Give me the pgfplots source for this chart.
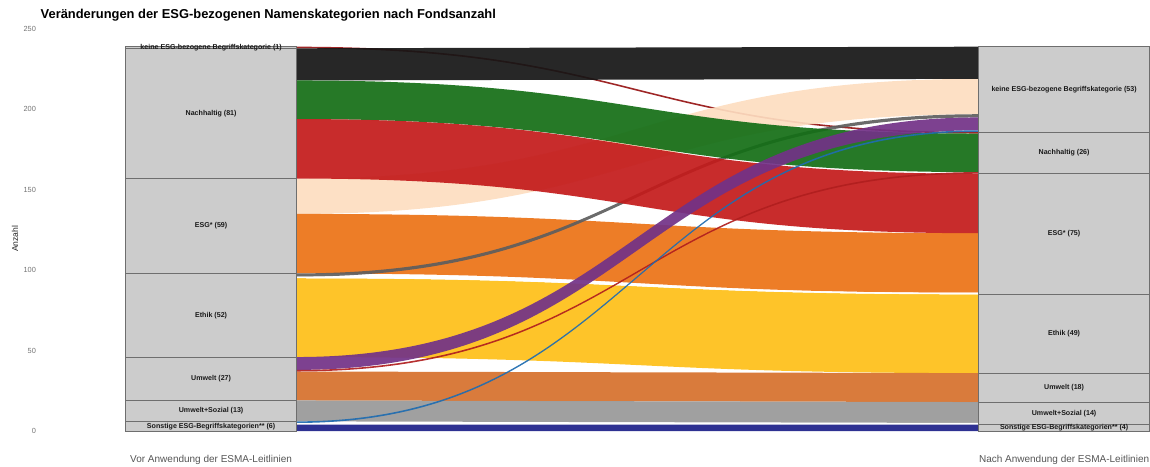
\documentclass[border=0pt]{standalone}
\usepackage{fontspec}
\setmainfont{Liberation Sans}
\usepackage{pgfplots}
\pgfplotsset{compat=1.18}
\usepackage{pgfplotstable}

\definecolor{cBlack}{HTML}{151515}
\definecolor{cGreen}{HTML}{136E15}
\definecolor{cRed}{HTML}{C31A1A}
\definecolor{cPeach}{HTML}{FDDDC0}
\definecolor{cOrange}{HTML}{EC7215}
\definecolor{cYellow}{HTML}{FEBF17}
\definecolor{cGrayLine}{HTML}{5E5E5E}
\definecolor{cPurple}{HTML}{723187}
\definecolor{cRedLine}{HTML}{B01E1E}
\definecolor{cBrown}{HTML}{D6702B}
\definecolor{cGrayArea}{HTML}{989898}
\definecolor{cBlueLine}{HTML}{1F6CB0}
\definecolor{cNavy}{HTML}{1C1F89}
\definecolor{cKN}{HTML}{961414}
\definecolor{cWhite}{HTML}{FFFFFF}
\definecolor{stratfill}{HTML}{CCCCCC}
\definecolor{stratline}{HTML}{6E6E6E}
\definecolor{tickgray}{HTML}{737373}
\definecolor{xlabgray}{HTML}{555555}

% flows: left bottom, left top, right bottom, right top, colour
\pgfplotstableread{
a   b   c   d   col
238 239 185 186 cKN
135 157 197 219 cPeach
98  135 86  123 cOrange
46  95  36  85  cYellow
96  98  195 197 cGrayLine
95  96  85  86  cWhite
218 238 219 239 cBlack
194 218 161 185 cGreen
157 194 123 160 cRed
19  37  18  36  cBrown
6   19  5   18  cGrayArea
4   5   4   5   cWhite
0   4   0   4   cNavy
38  46  187 195 cPurple
37  38  160 161 cRedLine
5   6   186 187 cBlueLine
}\flows

\newcommand{\flow}[5]{%
  \fill[#5, fill opacity=0.92] (axis cs:0.1,#1) .. controls (axis cs:0.5,#1) and (axis cs:0.5,#3) .. (axis cs:0.9,#3)
    -- (axis cs:0.9,#4) .. controls (axis cs:0.5,#4) and (axis cs:0.5,#2) .. (axis cs:0.1,#2) -- cycle;}

\begin{document}
\begin{tikzpicture}
\useasboundingbox (0,0) rectangle (1150pt,466pt);
\begin{axis}[
  at={(40.5pt,15.7pt)}, anchor=south west,
  width=1108.9pt, height=422.9pt, scale only axis,
  xmin=-0.2, xmax=1.1, ymin=-12, ymax=251,
  axis line style={draw=none},
  major tick length=0pt,
  xtick={0,1},
  xticklabels={Vor Anwendung der ESMA-Leitlinien, Nach Anwendung der ESMA-Leitlinien},
  ytick={0,50,...,250},
  /pgf/number format/assume math mode=true,
  yticklabel style={font=\fontsize{7.4}{8}\selectfont, text=tickgray, xshift=-1pt},
  xticklabel style={font=\fontsize{10}{12}\selectfont, text=xlabgray, yshift=-1pt},
  clip=false,
]
\pgfplotsinvokeforeach{0,...,15}{%
  \pgfplotstablegetelem{#1}{a}\of\flows \edef\fa{\pgfplotsretval}%
  \pgfplotstablegetelem{#1}{b}\of\flows \edef\fb{\pgfplotsretval}%
  \pgfplotstablegetelem{#1}{c}\of\flows \edef\fc{\pgfplotsretval}%
  \pgfplotstablegetelem{#1}{d}\of\flows \edef\fd{\pgfplotsretval}%
  \pgfplotstablegetelem{#1}{col}\of\flows \edef\fcol{\pgfplotsretval}%
  \edef\temp{\noexpand\flow{\fa}{\fb}{\fc}{\fd}{\fcol}}\temp
}

% strata, left
\addplot[fill=stratfill, draw=stratline, line width=0.8pt] coordinates {(-0.1,0) (0.1,0) (0.1,6) (-0.1,6)} --cycle;
\addplot[fill=stratfill, draw=stratline, line width=0.8pt] coordinates {(-0.1,6) (0.1,6) (0.1,19) (-0.1,19)} --cycle;
\addplot[fill=stratfill, draw=stratline, line width=0.8pt] coordinates {(-0.1,19) (0.1,19) (0.1,46) (-0.1,46)} --cycle;
\addplot[fill=stratfill, draw=stratline, line width=0.8pt] coordinates {(-0.1,46) (0.1,46) (0.1,98) (-0.1,98)} --cycle;
\addplot[fill=stratfill, draw=stratline, line width=0.8pt] coordinates {(-0.1,98) (0.1,98) (0.1,157) (-0.1,157)} --cycle;
\addplot[fill=stratfill, draw=stratline, line width=0.8pt] coordinates {(-0.1,157) (0.1,157) (0.1,238) (-0.1,238)} --cycle;
\addplot[fill=stratfill, draw=stratline, line width=0.8pt] coordinates {(-0.1,238) (0.1,238) (0.1,239) (-0.1,239)} --cycle;
% strata, right
\addplot[fill=stratfill, draw=stratline, line width=0.8pt] coordinates {(0.9,0) (1.1,0) (1.1,4) (0.9,4)} --cycle;
\addplot[fill=stratfill, draw=stratline, line width=0.8pt] coordinates {(0.9,4) (1.1,4) (1.1,18) (0.9,18)} --cycle;
\addplot[fill=stratfill, draw=stratline, line width=0.8pt] coordinates {(0.9,18) (1.1,18) (1.1,36) (0.9,36)} --cycle;
\addplot[fill=stratfill, draw=stratline, line width=0.8pt] coordinates {(0.9,36) (1.1,36) (1.1,85) (0.9,85)} --cycle;
\addplot[fill=stratfill, draw=stratline, line width=0.8pt] coordinates {(0.9,85) (1.1,85) (1.1,160) (0.9,160)} --cycle;
\addplot[fill=stratfill, draw=stratline, line width=0.8pt] coordinates {(0.9,160) (1.1,160) (1.1,186) (0.9,186)} --cycle;
\addplot[fill=stratfill, draw=stratline, line width=0.8pt] coordinates {(0.9,186) (1.1,186) (1.1,239) (0.9,239)} --cycle;

\tikzset{slab/.style={font=\bfseries\fontsize{7.1}{8}\selectfont, text=black!90, inner sep=0pt}}
\node[slab] at (axis cs:0,238.5) {keine ESG-bezogene Begriffskategorie (1)};
\node[slab] at (axis cs:0,197.5) {Nachhaltig (81)};
\node[slab] at (axis cs:0,127.5) {ESG* (59)};
\node[slab] at (axis cs:0,72) {Ethik (52)};
\node[slab] at (axis cs:0,32.5) {Umwelt (27)};
\node[slab] at (axis cs:0,12.5) {Umwelt+Sozial (13)};
\node[slab] at (axis cs:0,3) {Sonstige ESG-Begriffskategorien** (6)};
\node[slab] at (axis cs:1,212.5) {keine ESG-bezogene Begriffskategorie (53)};
\node[slab] at (axis cs:1,173) {Nachhaltig (26)};
\node[slab] at (axis cs:1,122.5) {ESG* (75)};
\node[slab] at (axis cs:1,60.5) {Ethik (49)};
\node[slab] at (axis cs:1,27) {Umwelt (18)};
\node[slab] at (axis cs:1,11) {Umwelt+Sozial (14)};
\node[slab] at (axis cs:1,2) {Sonstige ESG-Begriffskategorien** (4)};

\node[anchor=base west, font=\bfseries\fontsize{12.9}{15}\selectfont, inner sep=0pt] at ([yshift=9pt]rel axis cs:0,1) {Veränderungen der ESG-bezogenen Namenskategorien nach Fondsanzahl};
\node[rotate=90, font=\fontsize{8.6}{10}\selectfont, text=black!85, inner sep=0pt] at ([xshift=-25.5pt]rel axis cs:0,0.5) {Anzahl};
\end{axis}
\end{tikzpicture}
\end{document}
